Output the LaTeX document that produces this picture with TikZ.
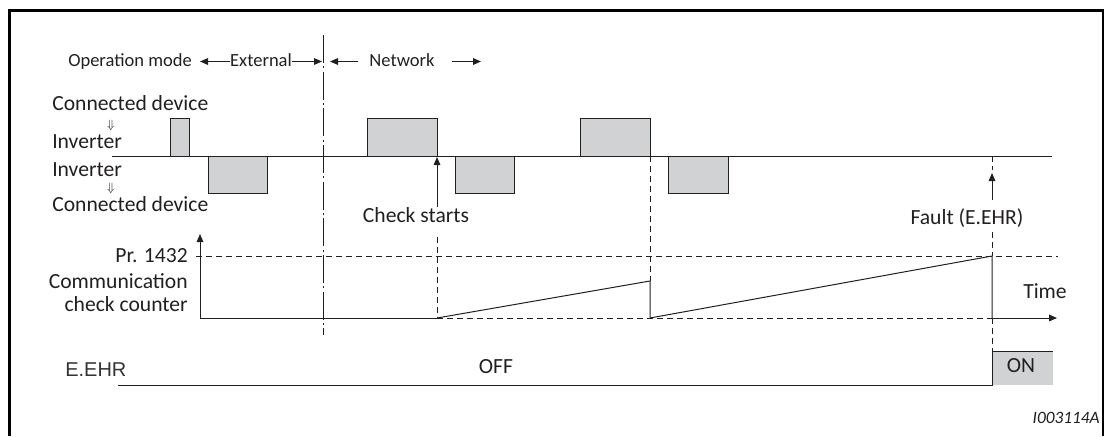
\documentclass[tikz,border=0pt]{standalone}
\usepackage{fontspec}
\setmainfont{Carlito}
\newfontfamily\arialfont{Liberation Sans}
\usetikzlibrary{arrows.meta,positioning,calc}
\definecolor{pulsegray}{RGB}{209,210,212}
\definecolor{inkgray}{RGB}{35,31,32}
\definecolor{sigtext}{RGB}{51,51,51}

\begin{document}
\begin{tikzpicture}[x=0.75pt,y=-0.75pt,
  lbl/.style={font=\fontsize{16.2}{18}\selectfont,text=inkgray,inner sep=0pt},
  hdr/.style={font=\fontsize{13.9}{16}\selectfont,text=inkgray,inner sep=0pt},
  sig/.style={font=\arialfont\fontsize{15}{16}\selectfont,text=sigtext,inner sep=0pt},
  dnarrow/.style={font=\fontsize{9.5}{10}\selectfont,text=inkgray,inner sep=0pt},
  pulse/.style={draw=inkgray,fill=pulsegray,line width=0.75pt},
  wave/.style={draw=inkgray,line width=0.75pt},
  guide/.style={draw=inkgray,dash pattern=on 4.5pt off 3pt,line width=0.6pt},
  modeline/.style={draw=inkgray,dash pattern=on 21pt off 2.5pt on 1.5pt off 2.5pt,line width=0.75pt},
  arr/.style={-{Triangle[length=6pt,width=5pt]},draw=inkgray,line width=0.75pt}
]
  \useasboundingbox (0,0) rectangle (1105,436);
  % frame, open at the bottom
  \draw[line width=1.9pt] (9.5,436) -- (9.5,10.5) -- (1103,10.5) -- (1103,436);

  % operation mode header
  \node[hdr,anchor=base west] (opmode) at (68,66) {Operation mode};
  \node[hdr,anchor=base] (ext) at (261,66) {External};
  \node[hdr,anchor=base] (net) at (402,66) {Network};
  \coordinate (extA0) at (230,61.5);
  \coordinate (extA)  at (200,61.5);
  \coordinate (extB0) at (292,61.5);
  \coordinate (extB)  at (322,61.5);
  \coordinate (netA0) at (358,61.5);
  \coordinate (netA)  at (330,61.5);
  \coordinate (netB0) at (452,61.5);
  \coordinate (netB)  at (481,61.5);
  \draw[arr] (extA0) -- (extA);
  \draw[arr] (extB0) -- (extB);
  \draw[arr] (netA0) -- (netA);
  \draw[arr] (netB0) -- (netB);
  % mode change
  \coordinate (modeT) at (323,35);
  \coordinate (modeB) at (323,335);
  \draw[modeline] (modeT) -- (modeB);

  % data direction labels
  \node[lbl,anchor=base west] (cdevA) at (52,110) {Connected device};
  \node[dnarrow] (dnA) at (111,125) {$\Downarrow$};
  \node[lbl,anchor=base west] (invA) at (52,148) {Inverter};
  \node[lbl,anchor=base west] (invB) at (52,176) {Inverter};
  \node[dnarrow] (dnB) at (111,188.5) {$\Downarrow$};
  \node[lbl,anchor=base west] (cdevB) at (52,211.5) {Connected device};

  % communication line
  \coordinate (lineL) at (112,156);
  \coordinate (lineR) at (1052,156);
  \draw[wave] (lineL) -- (lineR);
  \foreach \a/\b in {170/189, 367/437, 580/650}
    \draw[pulse] (\a,118) rectangle (\b,156);
  \foreach \a/\b in {208/267, 455/514, 668/728}
    \draw[pulse] (\a,156) rectangle (\b,193);

  % check starts
  \node[lbl,anchor=base] (chk) at (416,222.5) {Check starts};
  \coordinate (chkTip) at (437,157);
  \coordinate (chkTail) at (437,207);
  \coordinate (chkLow) at (437,237);
  \coordinate (chkZero) at (437,318);
  \draw[arr] (chkTail) -- (chkTip);
  \draw[guide] (chkLow) -- (chkZero);

  % fault
  \node[lbl,anchor=base] (flt) at (967,224) {Fault (E.EHR)};
  \coordinate (fltTop) at (992,156);
  \coordinate (fltA) at (992,170);
  \coordinate (fltTip) at (992,173);
  \coordinate (fltTail) at (992,200);
  \coordinate (fltLow) at (992,232);
  \coordinate (fltMax) at (992,256);
  \coordinate (fltZero) at (992,318);
  \coordinate (fltOn) at (992,351);
  \coordinate (fltOff) at (992,385);
  \draw[guide] (fltTop) -- (fltA);
  \draw[arr] (fltTail) -- (fltTip);
  \draw[guide] (fltLow) -- (fltMax);
  \draw[guide] (fltZero) -- (fltOn);

  % second reset
  \coordinate (rstTop) at (650,156);
  \coordinate (rstPeak) at (650,281);
  \coordinate (rstZero) at (650,318);
  \draw[guide] (rstTop) -- (rstPeak);

  % counter axes
  \node[lbl,anchor=base east] (pr) at (188,262) {Pr. 1432};
  \node[lbl,anchor=base east] (cntA) at (188,288.5) {Communication};
  \node[lbl,anchor=base east] (cntB) at (188,311.5) {check counter};
  \node[lbl,anchor=base] (time) at (1045,298) {Time};
  \coordinate (org) at (200,318);
  \coordinate (yTip) at (200,234);
  \coordinate (prL) at (196,256);
  \coordinate (prR) at (1058,256);
  \coordinate (xTip) at (1057,318);
  \draw[guide] (prL) -- (prR);
  \draw[arr] (org) -- (yTip);
  \draw[wave] (org) -- (chkZero);
  \draw[guide] (chkZero) -- (fltZero);
  \draw[arr] (fltZero) -- (xTip);
  \draw[wave] (chkZero) -- (rstPeak) -- (rstZero) -- (fltMax) -- (fltZero);

  % E.EHR output
  \node[sig,anchor=base west] (ehr) at (65,376) {E.EHR};
  \node[lbl,anchor=base] (off) at (496,373) {OFF};
  \coordinate (ehrL) at (118,385);
  \coordinate (onR) at (1053,351);
  \fill[pulsegray] (fltOn) rectangle (1053,385);
  \draw[wave] (ehrL) -- (fltOff) -- (fltOn) -- (onR);
  \node[lbl,anchor=base] (on) at (1021,372) {ON};

  \node[font=\itshape\fontsize{13}{14}\selectfont,text=inkgray,inner sep=0pt,anchor=base east] (fig) at (1100,423) {I003114A};
\end{tikzpicture}
\end{document}
